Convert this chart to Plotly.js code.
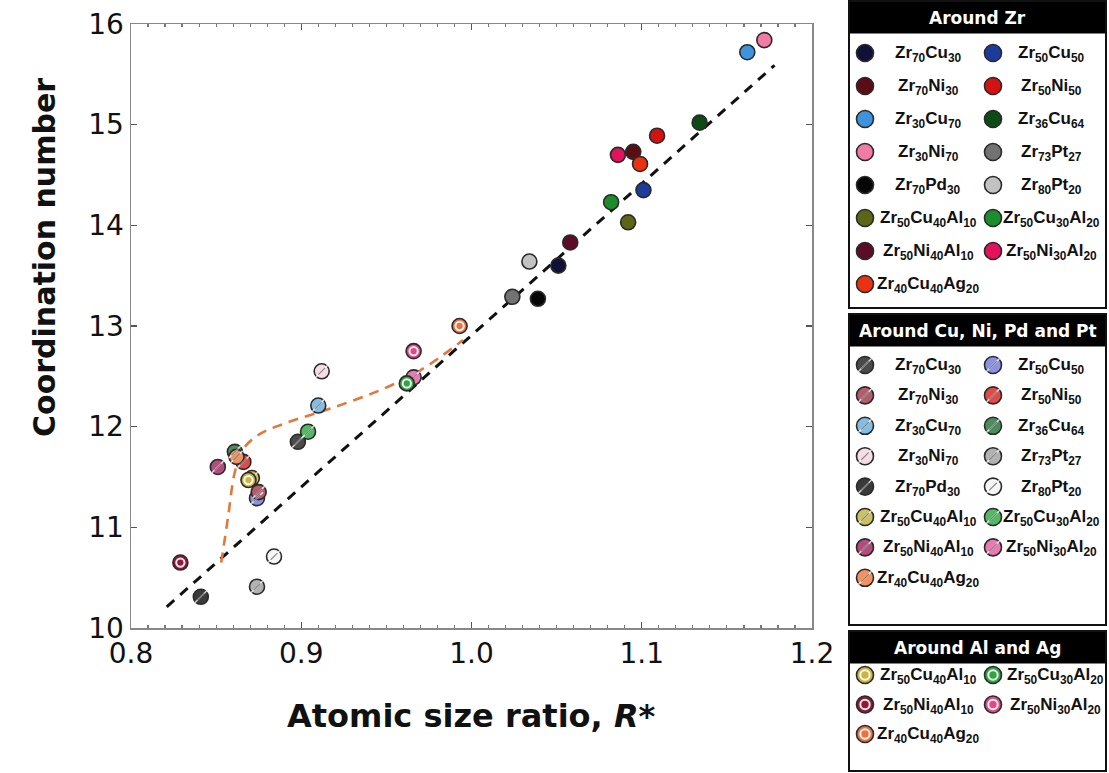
<!DOCTYPE html>
<html><head><meta charset="utf-8">
<script src="https://cdn.plot.ly/plotly-3.0.1.min.js"></script>
<style>body{margin:0;background:#fff}#chart{width:1109px;height:773px}</style>
</head><body><div id="chart"></div>
<script>
// ---------- data ----------
const alloyNames = ['Zr70Cu30','Zr50Cu50','Zr70Ni30','Zr50Ni50','Zr30Cu70','Zr36Cu64','Zr30Ni70','Zr73Pt27',
  'Zr70Pd30','Zr80Pt20','Zr50Cu40Al10','Zr50Cu30Al20','Zr50Ni40Al10','Zr50Ni30Al20','Zr40Cu40Ag20'];

// Around Zr (solid)
const zrX = [1.051,1.101,1.095,1.109,1.162,1.134,1.172,1.024,1.039,1.034,1.092,1.082,1.058,1.086,1.099];
const zrY = [13.60,14.35,14.73,14.89,15.72,15.02,15.84,13.29,13.27,13.64,14.03,14.23,13.83,14.70,14.61];
const zrColors = ['#101038','#1c3c9c','#5c0c14','#d41212','#3e94dc','#0e4a16','#f27aa6','#727272',
  '#060606','#c2c2c2','#5c6616','#1c8c2c','#5c0c26','#e2125c','#e83212'];

// Around Cu, Ni, Pd and Pt (hatched)
const tmX = [0.898,0.874,0.875,0.866,0.910,0.861,0.912,0.874,0.841,0.884,0.871,0.904,0.851,0.966,0.862];
const tmY = [11.85,11.29,11.35,11.65,12.21,11.75,12.55,10.41,10.31,10.71,11.49,11.95,11.60,12.49,11.70];
const tmColors = ['#4a4a4a','#8c92e2','#b25c6c','#e24a4a','#84bce2','#4c8c5c','#f8dce4','#b2b2b2',
  '#3a3a3a','#f6f6f6','#cac262','#52ba62','#b24c7a','#ea7ab2','#f29262'];

// Around Al and Ag (checkered)
const alNames = ['Zr50Cu40Al10','Zr50Cu30Al20','Zr50Ni40Al10','Zr50Ni30Al20','Zr40Cu40Ag20'];
const alX = [0.869,0.962,0.829,0.966,0.993];
const alY = [11.47,12.43,10.65,12.75,13.00];
const alColors = ['#cab444','#32a444','#92183a','#e24a82','#ea7244'];

// linear fit (black dashed) and guide curve (orange dashed)
const fitX = [0.821,1.178];
const fitY = [10.21,15.59];
const guideX = [0.853,0.857,0.861,0.866,0.875,0.890,0.917,0.946,0.970,0.995];
const guideY = [10.65,11.10,11.55,11.78,11.92,12.03,12.18,12.36,12.56,12.86];

const xTickVals = [0.8,0.9,1.0,1.1,1.2];
const xTickText = ['0.8','0.9','1.0','1.1','1.2'];
const yTickVals = [10,11,12,13,14,15,16];
const yTickText = ['10','11','12','13','14','15','16'];

const groupTitles = ['Around Zr','Around Cu, Ni, Pd and Pt','Around Al and Ag'];

// ---------- helpers ----------
const W = 1109, H = 773;
const fmt = n => n.replace(/(\d+)/g,'<sub>$1</sub>');
const OUT = '#2a2a2a';

function markers(x, y, colors, size, xa, ya, kind){
  const tr = [{
    type:'scatter', mode:'markers', x:x, y:y, xaxis:xa, yaxis:ya, hoverinfo:'skip',
    marker:{symbol:'circle', size:size, color:colors, line:{color:OUT, width:1.6}}
  }];
  if(kind==='hatch'){
    tr.push({type:'scatter', mode:'markers', x:x, y:y, xaxis:xa, yaxis:ya, hoverinfo:'skip',
      marker:{symbol:'line-ne', size:size*0.8, color:'rgba(255,255,255,0.75)', line:{color:'rgba(255,255,255,0.75)', width:1.6}}});
    tr.push({type:'scatter', mode:'markers', x:x, y:y, xaxis:xa, yaxis:ya, hoverinfo:'skip',
      marker:{symbol:'line-ne', size:size*0.45, color:'rgba(40,40,40,0.55)', line:{color:'rgba(40,40,40,0.55)', width:1.2}}});
  }
  if(kind==='check'){
    tr.push({type:'scatter', mode:'markers', x:x, y:y, xaxis:xa, yaxis:ya, hoverinfo:'skip',
      marker:{symbol:'circle-open', size:size*0.55, color:'rgba(255,255,255,0.9)', line:{color:'rgba(255,255,255,0.9)', width:2}}});
    tr.push({type:'scatter', mode:'markers', x:x, y:y, xaxis:xa, yaxis:ya, hoverinfo:'skip',
      marker:{symbol:'circle', size:size*0.22, color:colors, line:{width:0}}});
  }
  return tr;
}

const traces = [];
// fit line
traces.push({type:'scatter', mode:'lines', x:fitX, y:fitY, hoverinfo:'skip',
  line:{color:'#111', width:3, dash:'10px,8px'}});
// guide curve
traces.push({type:'scatter', mode:'lines', x:guideX, y:guideY, hoverinfo:'skip',
  line:{color:'#e2783e', width:2.6, dash:'10px,7px', shape:'spline', smoothing:1}});
// data points
traces.push(...markers(tmX, tmY, tmColors, 15, 'x', 'y', 'hatch'));
traces.push(...markers(alX, alY, alColors, 15, 'x', 'y', 'check'));
traces.push(...markers(zrX, zrY, zrColors, 15, 'x', 'y', 'solid'));

// ---------- legend (pixel overlay axis x2/y2) ----------
const boxes = [
  {top:1, bottom:308, rowStart:53, rowStep:33, names:alloyNames, colors:zrColors, kind:'solid', tx:[928,1051]},
  {top:314, bottom:625, rowStart:365, rowStep:30.4, names:alloyNames, colors:tmColors, kind:'hatch', tx:[928,1051]},
  {top:631, bottom:771, rowStart:675, rowStep:29.5, names:alNames, colors:alColors, kind:'check', tx:[928,1055]}
];
const shapes = [], annotations = [];
const BX0 = 849, BX1 = 1106, HEAD = 32;
const colMarkX = [865, 993];
boxes.forEach((b, bi) => {
  shapes.push({type:'rect', xref:'x2', yref:'y2', x0:BX0, x1:BX1, y0:b.top, y1:b.bottom,
    line:{color:'#111', width:2}, fillcolor:'rgba(0,0,0,0)', layer:'above'});
  shapes.push({type:'rect', xref:'x2', yref:'y2', x0:BX0, x1:BX1, y0:b.top, y1:b.top+HEAD,
    line:{color:'#000', width:1}, fillcolor:'#000', layer:'below'});
  annotations.push({xref:'x2', yref:'y2', x:(BX0+BX1)/2, y:b.top+HEAD/2+1, text:'<b>'+groupTitles[bi]+'</b>',
    showarrow:false, font:{family:'DejaVu Sans', size:17, color:'#fff'}});
  const lx = [], ly = [];
  b.names.forEach((n, i) => {
    const c = i % 2, r = Math.floor(i / 2);
    const yy = b.rowStart + r * b.rowStep;
    lx.push(colMarkX[c]); ly.push(yy);
    annotations.push({xref:'x2', yref:'y2', x:b.tx[c], y:yy+1, text:'<b>'+fmt(n)+'</b>', showarrow:false,
      font:{family:'Liberation Sans', size:17, color:'#111'}});
  });
  traces.push(...markers(lx, ly, b.colors, 17, 'x2', 'y2', b.kind));
});

// axis titles
annotations.push({xref:'x2', yref:'y2', x:44, y:258, textangle:-90, showarrow:false,
  text:'<b>Coordination number</b>', font:{family:'DejaVu Sans', size:30, color:'#111'}});
annotations.push({xref:'x2', yref:'y2', x:471, y:716, showarrow:false,
  text:'<b>Atomic size ratio, <i>R</i>*</b>', font:{family:'DejaVu Sans', size:32, color:'#111'}});

const layout = {
  width:W, height:H, margin:{l:0, r:0, t:0, b:0},
  paper_bgcolor:'#fff', plot_bgcolor:'rgba(0,0,0,0)', showlegend:false,
  xaxis:{domain:[131/W, 812/W], range:[0.8,1.2], tickvals:xTickVals, ticktext:xTickText,
    ticks:'inside', ticklen:6, tickwidth:1.2, tickcolor:'#555', showline:true, linecolor:'#888', linewidth:1.5,
    mirror:'ticks', showgrid:false, zeroline:false, automargin:false,
    tickfont:{family:'DejaVu Sans', size:28, color:'#111'},
    minor:{dtick:0.01, ticks:'inside', ticklen:3, tickcolor:'#777', showgrid:false}},
  yaxis:{domain:[(H-628)/H, (H-24)/H], range:[10,16], tickvals:yTickVals, ticktext:yTickText,
    ticks:'inside', ticklen:6, tickwidth:1.2, tickcolor:'#555', showline:true, linecolor:'#888', linewidth:1.5,
    mirror:'ticks', showgrid:false, zeroline:false, automargin:false,
    tickfont:{family:'DejaVu Sans', size:28, color:'#111'}},
  xaxis2:{domain:[0,1], range:[0,W], visible:false, anchor:'y2', fixedrange:true},
  yaxis2:{domain:[0,1], range:[H,0], visible:false, anchor:'x2', fixedrange:true},
  shapes:shapes, annotations:annotations
};
Plotly.newPlot('chart', traces, layout, {staticPlot:true, displayModeBar:false});
</script></body></html>
